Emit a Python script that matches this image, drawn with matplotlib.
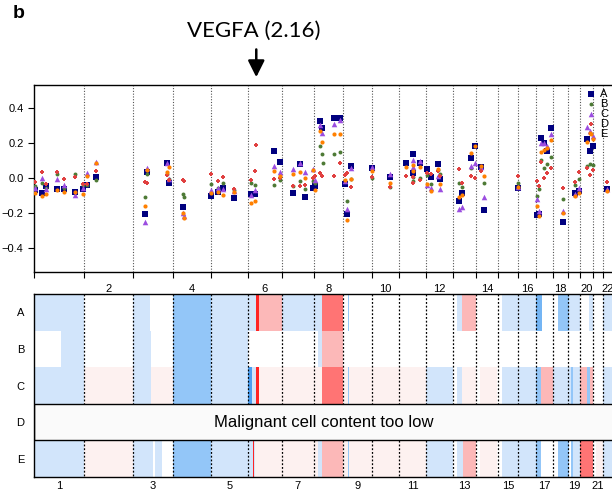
import numpy as np
import matplotlib.pyplot as plt
from matplotlib.patches import Rectangle

plt.rcParams['font.family'] = ['Liberation Sans', 'DejaVu Sans']

# chromosome sizes (Mb, hg19 autosomes)
chrom_size = [249.3, 243.2, 198.0, 191.2, 180.9, 171.1, 159.1, 146.4, 141.2, 135.5, 135.0,
              133.9, 115.2, 107.3, 102.5, 90.4, 81.2, 78.1, 59.1, 63.0, 48.1, 51.3]
chrom_names = [str(i) for i in range(1, 23)]

# segment log-ratios per sample, genome position in Mb
nan = np.nan
seg_pos = [2.5, 39.8, 59.7, 116.9, 149.3, 202.5, 243.8, 265.2, 308.5, 552.2, 562.2, 663.2,
           671.6, 741.3, 746.3, 882.1, 916.9, 940.3, 993.5, 1079.6, 1102.0, 1107.0, 1195.5,
           1222.4, 1288.6, 1324.9, 1348.3, 1389.6, 1398.0, 1425.4, 1431.3, 1437.8, 1494.0,
           1522.4, 1547.3, 1559.7, 1575.6, 1680.1, 1771.1, 1850.7, 1884.1, 1887.0, 1920.4,
           1953.7, 1973.6, 2008.5, 2022.4, 2116.9, 2129.4, 2175.6, 2194.0, 2223.9, 2238.8,
           2406.5, 2502.5, 2512.4, 2524.9, 2537.3, 2554.7, 2572.1, 2630.3, 2694.0, 2711.4,
           2749.8, 2766.2, 2781.1, 2849.3]
val_A = [-0.068, -0.084, -0.046, -0.065, -0.064, -0.080, -0.061, -0.040, 0.006, -0.204, 0.036, 0.088,
         -0.027, -0.164, nan, -0.103, -0.078, -0.060, -0.112, -0.093, -0.090, nan, 0.154,
         0.091, -0.084, 0.082, -0.107, -0.059, -0.044, 0.328, 0.284, nan, 0.345,
         0.345, -0.036, -0.205, 0.069, 0.059, 0.004, 0.088, 0.139, 0.030, 0.088,
         0.051, 0.008, 0.082, -0.006, -0.130, -0.084, 0.114, 0.185, 0.065, -0.183,
         -0.057, -0.211, -0.206, 0.227, 0.200, 0.156, 0.284, -0.250, -0.084, -0.075,
         0.223, 0.156, 0.185, -0.065]
val_B = [-0.045, -0.027, -0.060, 0.023, -0.060, 0.021, -0.040, -0.042, -0.011, -0.107, 0.023, 0.020,
         -0.005, -0.093, -0.110, -0.034, -0.055, -0.027, -0.066, -0.027, -0.040, nan, -0.042,
         -0.010, -0.044, -0.017, -0.065, -0.020, -0.030, 0.183, 0.135, 0.088, 0.135,
         0.150, nan, -0.130, -0.005, 0.000, -0.050, nan, 0.004, -0.020, -0.002,
         0.017, -0.034, 0.046, 0.020, -0.027, -0.049, 0.055, nan, nan, -0.030,
         -0.027, -0.103, -0.065, 0.103, 0.055, 0.078, 0.122, -0.122, -0.040, -0.008,
         0.071, 0.080, 0.075, nan]
val_C = [-0.060, -0.002, -0.065, -0.008, -0.042, -0.097, -0.060, 0.030, 0.091, -0.253, 0.055, 0.085,
         -0.006, -0.200, -0.220, -0.069, -0.060, -0.065, -0.075, -0.100, -0.069, nan, 0.069,
         0.036, 0.050, 0.085, 0.036, 0.053, -0.010, 0.303, 0.255, nan, 0.307,
         0.330, -0.020, -0.177, 0.057, 0.065, 0.023, nan, 0.103, 0.060, 0.097,
         -0.040, -0.059, 0.011, -0.065, -0.177, -0.164, 0.069, 0.088, 0.060, -0.107,
         -0.050, -0.122, -0.187, 0.198, 0.198, 0.180, 0.250, -0.187, -0.090, -0.059,
         0.293, 0.270, 0.240, -0.065]
val_D = [-0.025, 0.034, -0.035, 0.034, -0.004, 0.004, -0.034, -0.034, 0.042, -0.023, -0.030, 0.017,
         -0.010, -0.011, -0.020, 0.021, -0.015, 0.004, -0.061, -0.011, 0.040, 0.187, -0.008,
         0.000, -0.044, -0.046, -0.040, 0.000, 0.010, 0.030, 0.013, nan, 0.011,
         0.084, 0.015, 0.027, -0.053, 0.005, -0.053, 0.011, -0.030, 0.004, -0.010,
         0.030, 0.023, 0.040, 0.010, 0.050, -0.030, 0.011, -0.002, 0.040, nan,
         0.011, -0.020, -0.046, 0.094, -0.002, 0.030, 0.055, -0.059, -0.021, 0.036,
         0.055, 0.017, 0.046, -0.021]
val_E = [-0.088, -0.105, -0.090, -0.070, -0.080, -0.080, -0.091, 0.011, 0.084, -0.162, 0.045, 0.036,
         0.060, -0.200, -0.230, -0.086, -0.080, -0.100, -0.080, -0.145, -0.130, nan, 0.040,
         0.011, 0.023, 0.036, -0.002, 0.045, -0.069, 0.270, 0.208, nan, 0.250,
         0.250, -0.010, -0.240, -0.008, 0.040, -0.027, 0.061, 0.074, 0.042, 0.065,
         -0.034, -0.073, 0.050, -0.034, -0.111, -0.100, 0.145, 0.185, 0.068, 0.010,
         -0.050, -0.160, -0.220, 0.150, 0.160, 0.170, 0.217, -0.200, -0.103, -0.085,
         0.204, 0.255, 0.220, -0.075]

# heatmap calls per sample: (start Mb, end Mb, level)
calls_A = [(0, 249.3, -1), (249.3, 492.5, 0), (492.5, 577, -1), (577, 690.5, 0), (690.5, 881.7, -2),
           (881.7, 1104.5, -1), (1104.5, 1121, 3), (1121, 1233.7, 1), (1233.7, 1432.8, -1),
           (1432.8, 1539.2, 2), (1539.2, 1562, 0), (1562, 1566, -2), (1566, 2103, 0),
           (2103, 2131, -1), (2131, 2200, 1), (2200, 2328, 0), (2328, 2500, -1), (2500, 2526, -2.5),
           (2526, 2608.5, 0), (2608.5, 2663, -2), (2663, 2716, -1), (2716, 2762.7, 0),
           (2762.7, 2782, -1), (2782, 2830, 0), (2830, 2881, -1)]
calls_B = [(0, 132.8, 0), (132.8, 249.3, -1), (249.3, 492.5, 0), (492.5, 582, -1), (582, 690.5, 0),
           (690.5, 881.7, -2), (881.7, 1062.6, -1), (1062.6, 1414.4, 0), (1414.4, 1432.8, -1),
           (1432.8, 1539.2, 1), (1539.2, 2881, 0)]
calls_C = [(0, 249.3, -1), (249.3, 492.5, 0.5), (492.5, 582, -1), (582, 690.5, 0.5), (690.5, 881.7, -2),
           (881.7, 1062.6, -1), (1062.6, 1083, -3), (1083, 1104.5, -1), (1104.5, 1121, 3),
           (1121, 1432.8, 0.5), (1432.8, 1539.2, 2), (1539.2, 1562, 0.5), (1562, 1566, -2),
           (1566, 1950.9, 0.5), (1950.9, 2084.8, -1), (2084.8, 2103, 0), (2103, 2131, -1),
           (2131, 2200, 0.5), (2200, 2219, 0), (2219, 2302, 0.5), (2302, 2328, 0), (2328, 2500, -1),
           (2500, 2522, -2), (2522, 2584, 1), (2584, 2670, -1), (2670, 2680, -2), (2680, 2716, -1),
           (2716, 2754, 1), (2754, 2766, -2), (2766, 2782, 1), (2782, 2830, 0), (2830, 2881, -1)]
calls_E = [(0, 249.3, -1), (249.3, 492.5, 0.5), (492.5, 592, -1), (592, 602, 0), (602, 637, -1),
           (637, 690.5, 0), (690.5, 881.7, -2), (881.7, 1089, -1), (1089, 1093, 3), (1093, 1100, -1),
           (1100, 1414.4, 0.5), (1414.4, 1432.8, -1), (1432.8, 1539.2, 1), (1539.2, 1562, 0.5),
           (1562, 1566, -2), (1566, 1950.9, 0.5), (1950.9, 2084.8, -1), (2084.8, 2103, 0),
           (2103, 2136, -1), (2136, 2200, 1), (2200, 2219, 0), (2219, 2302, 0.5), (2302, 2328, 0),
           (2328, 2500, -1), (2500, 2522, -2), (2522, 2608, 0), (2608, 2663, -2), (2663, 2670, 0),
           (2670, 2680, -2), (2680, 2716, -1), (2716, 2782, 2), (2782, 2796, 0), (2796, 2832, 0.5),
           (2832, 2881, -1)]

level_col = {-3: '#4c9ff0', -2.5: '#74b5f4', -2: '#93c6f8', -1: '#d2e5fb', 0: '#ffffff',
             0.5: '#fdf1f0', 1: '#fcb8b8', 2: '#ff7474', 3: '#ff2424'}

samples = ['A', 'B', 'C', 'D', 'E']
styles = {'A': dict(marker='s', color='#00007f', s=16),
          'B': dict(marker='o', color='#4d7a35', s=8),
          'C': dict(marker='^', color='#9b4de0', s=16),
          'D': dict(marker='P', color='#e04040', s=6),
          'E': dict(marker='o', color='#ff8000', s=9)}

starts = np.concatenate([[0], np.cumsum(chrom_size)[:-1]])
ends = np.cumsum(chrom_size)
mids = (starts + ends) / 2
total = ends[-1]

fig = plt.figure(figsize=(6.12, 4.94), dpi=100)
ax1 = fig.add_axes([34/612, 222/494, 579/612, 187/494])
ax2 = fig.add_axes([34/612, 17/494, 579/612, 183/494])

# top: scatter of segment values
vals = {'A': val_A, 'B': val_B, 'C': val_C, 'D': val_D, 'E': val_E}
handles = []
for s in samples:
    h = ax1.scatter(seg_pos, vals[s], linewidths=0, zorder=3, **styles[s])
    handles.append(h)
for b in ends[:-1]:
    ax1.axvline(b, color='#555555', ls=(0, (1, 1.5)), lw=0.8, zorder=1)
ax1.set_xlim(0, total)
ax1.set_ylim(-0.537, 0.531)
ax1.spines['right'].set_visible(False)
for sp in ['left', 'top', 'bottom']:
    ax1.spines[sp].set_linewidth(1)
ax1.set_yticks([-0.4, -0.2, 0.0, 0.2, 0.4])
ax1.set_yticklabels(['\u22120.4', '\u22120.2', '0.0', '0.2', '0.4'])
ax1.tick_params(axis='y', labelsize=8, length=4, width=0.8)
ax1.set_xticks(np.concatenate([[0], ends]))
ax1.set_xticklabels([])
ax1.tick_params(axis='x', which='major', length=4, width=0.8, direction='out')
ax1.set_xticks(mids[1::2], minor=True)
ax1.set_xticklabels(chrom_names[1::2], minor=True)
ax1.tick_params(axis='x', which='minor', length=0, labelsize=8, pad=9)

ax1.legend(handles, samples, loc='upper left', bbox_to_anchor=(587/612, 1 - 89/494),
           bbox_transform=fig.transFigure, frameon=False, handlelength=0.7,
           handletextpad=0.5, labelspacing=0.0, borderpad=0, borderaxespad=0,
           fontsize=8, scatterpoints=1)

# VEGFA label with arrow
vegfa = 1106
ax1.text(1092, 1.29, 'VEGFA (2.16)', transform=ax1.get_xaxis_transform(),
         ha='center', va='center', fontsize=16, family=['Lato', 'DejaVu Sans'])
ax1.annotate('', xy=(vegfa, 1.027), xytext=(vegfa, 1.205),
             xycoords=ax1.get_xaxis_transform(), textcoords=ax1.get_xaxis_transform(),
             arrowprops=dict(arrowstyle='-|>,head_length=1.0,head_width=0.5',
                             mutation_scale=10, lw=1.8, color='k'), annotation_clip=False)
fig.text(13/612, 1 - 14/494, 'b', fontsize=14, fontweight='bold', va='center', ha='left')

# bottom: copy number calls
calls = {'A': calls_A, 'B': calls_B, 'C': calls_C, 'E': calls_E}
for i, s in enumerate(samples):
    if s not in calls:
        continue
    for st, en, lv in calls[s]:
        ax2.broken_barh([(st, en - st)], (i, 1), facecolors=level_col[lv], lw=0, zorder=1)
ax2.vlines(ends[:-1], 0, 5, colors='k', linestyles=(0, (1.5, 1.5)), lw=0.9, zorder=2)
ax2.add_patch(Rectangle((0, 3), total, 1, facecolor='#fafafa', edgecolor='k', lw=1, zorder=3))
ax2.text(total / 2, 3.5, 'Malignant cell content too low', ha='center', va='center',
         fontsize=12, zorder=4)
ax2.set_xlim(0, total)
ax2.set_ylim(5, 0)
for sp in ax2.spines.values():
    sp.set_linewidth(1)
    sp.set_zorder(5)
ax2.set_yticks(np.arange(5) + 0.5)
ax2.set_yticklabels(samples)
ax2.tick_params(axis='y', length=0, labelsize=8, pad=7)
ax2.set_xticks(mids[0::2])
ax2.set_xticklabels(chrom_names[0::2])
ax2.tick_params(axis='x', length=0, labelsize=8, pad=3)

fig.savefig('out.png', dpi=100)
